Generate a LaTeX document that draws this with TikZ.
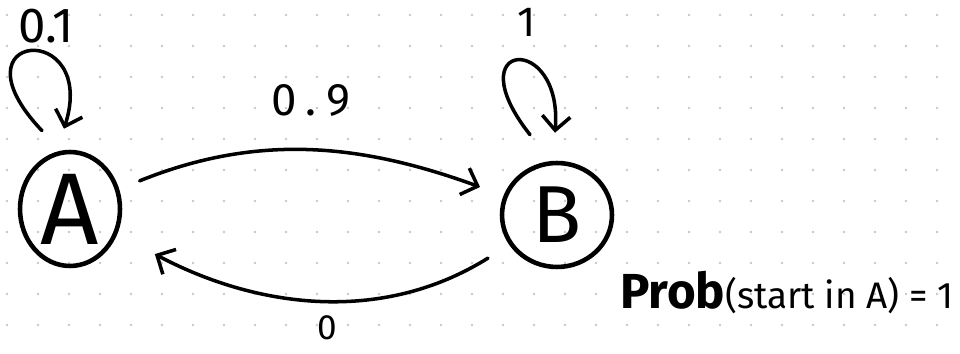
\documentclass[tikz,border=0pt]{standalone}
\usepackage{fontspec}
\setmainfont{Fira Sans}
\usetikzlibrary{arrows.meta,shapes.geometric,calc}

\begin{document}
\begin{tikzpicture}[x=0.02cm, y=0.02cm,
    state/.style={draw, ellipse, line width=2.6pt, inner sep=0pt},
    lbl/.style={font=\fontsize{26}{26}\selectfont},
    arr/.style={line width=2pt, line cap=round,
                -{Straight Barb[length=8pt,width=16pt,line width=2pt]}},
    griddot/.style={fill=black!22}
  ]
  \useasboundingbox[fill=white] (0,0) rectangle (960,354);
  % dotted paper
  \foreach \i in {0,...,30}
    \foreach \j in {0,...,10}
      \fill[griddot] (7+31*\i, 339-31*\j) circle (0.028cm);

  \node[state, minimum width=2cm, minimum height=2.28cm,
        font=\fontsize{58}{58}\selectfont] (A) at (70,145) {A};
  \node[state, minimum width=2.2cm, minimum height=2.08cm,
        font=\fontsize{46}{46}\selectfont] (B) at (557,139) {B};

  % self loops
  \coordinate (a1) at ($(A.north)+(-28,19)$);
  \coordinate (a2) at ($(A.north)+(-6,21)$);
  \coordinate (b1) at ($(B.north)+(-27,26)$);
  \coordinate (b2) at ($(B.north)+(-2,28)$);
  \draw[arr] (a1) .. controls +(-95,100) and +(35,110) .. (a2);
  \draw[arr] (b1) .. controls +(-75,95) and +(8,101) .. (b2);
  \node[lbl, font=\fontsize{28}{28}\selectfont] (pAA) at (46,328) {0.1};
  \node[lbl, font=\fontsize{24}{24}\selectfont] (pBB) at (527,332) {1};

  % transitions
  \draw[arr, shorten <=0.44cm, shorten >=0.5cm] (A) to[out=22, in=160]
    node[lbl, above=0.55cm] (pAB) {0\hspace{0.2em}.\hspace{0.2em}9} (B);
  \draw[arr, shorten <=0.5cm, shorten >=0.85cm] (B) to[out=212, in=-28]
    node[lbl, pos=0.47, below=0.22cm, font=\fontsize{20}{20}\selectfont] (pBA) {0} (A);

  \node[anchor=west] (prob) at (614,61)
    {{\fontsize{28}{28}\selectfont\bfseries Prob}{\fontsize{21}{21}\selectfont(start in A) = 1}};
\end{tikzpicture}
\end{document}
